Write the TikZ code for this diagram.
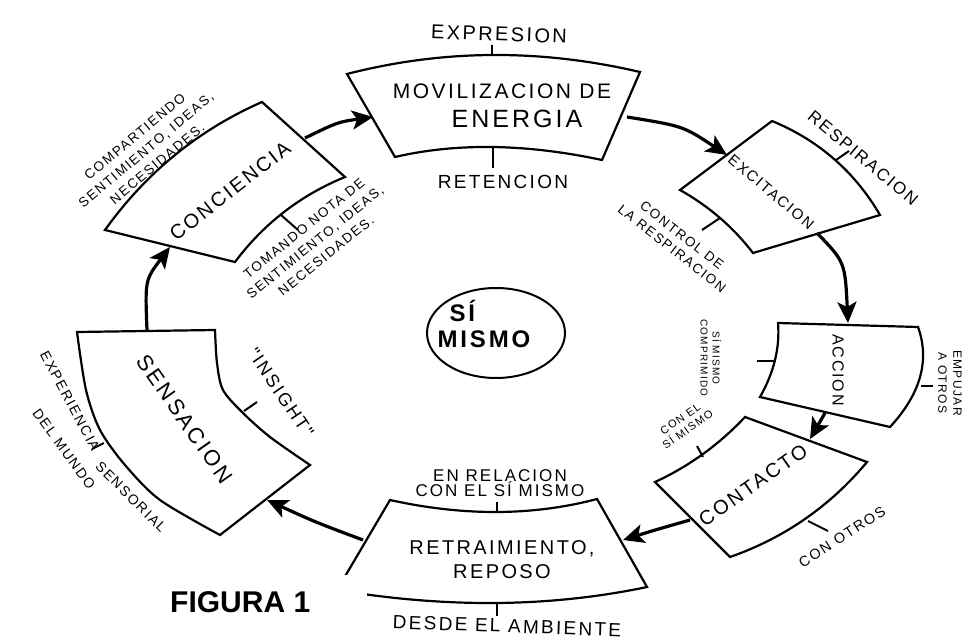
\documentclass[tikz,border=0pt]{standalone}
\usepackage{fontspec}
\setmainfont{Liberation Sans}
\newfontfamily\hand[LetterSpace=12]{Liberation Sans}
\usetikzlibrary{arrows.meta}
\usetikzlibrary{shapes.geometric}

\begin{document}
\begin{tikzpicture}[x=1pt, y=-1pt,
  box/.style={line width=2.2pt, line join=miter},
  tick/.style={line width=2pt},
  flow/.style={line width=3.2pt, -{Stealth[length=21pt, width=19pt, inset=5pt]}},
  lbl/.style={font={\hand\fontsize{#1}{#1}\selectfont}, align=center, inner sep=0pt}]

\fill[white] (0,0) rectangle (979,639);
\useasboundingbox (0,0) rectangle (979,639);

% the seven boxes of the cycle
\draw[box] (347,74) .. controls (442.7,49.3) and (540.3,48.7) .. (640,72) -- (602,160)
  .. controls (525.7,143.7) and (456.7,142.7) .. (395,157) -- cycle;
\draw[box] (772,121) .. controls (818.7,140.3) and (854.7,171.7) .. (880,215) -- (753,253)
  .. controls (733.3,227.3) and (709,206.3) .. (680,190) -- cycle;
\draw[box] (778,323) -- (918,327) .. controls (930,360.3) and (920.7,393.7) .. (890,427) -- (760,397)
  .. controls (774,372.3) and (780,347.7) .. (778,323) -- cycle;
\draw[box] (745,417) -- (867,462) .. controls (830,506.3) and (784.3,538) .. (730,557) -- (655,482)
  .. controls (689,466.3) and (719,444.7) .. (745,417) -- cycle;
\draw[box] (390,500) .. controls (463.7,516.3) and (532.7,516) .. (597,499) -- (647,587)
  .. controls (550.3,607.3) and (447,608.3) .. (337,590) -- cycle;
\draw[box] (77,332) -- plot[smooth] coordinates {(215,330) (217,363) (223,390) (243,413) (270,437) (310,465)}
  -- plot[smooth] coordinates {(220,535) (160,500) (125,465) (100,430) (86,390) (77,332)} -- cycle;
\draw[box] (105,230) .. controls (146,172.7) and (198.3,130) .. (262,102) -- (345,177)
  .. controls (300.3,195.3) and (263.7,223.7) .. (235,262) -- cycle;

% ticks
\draw[tick] (492,55) -- (492,45);
\draw[tick] (493,148) -- (493,168);
\draw[tick] (836,160) -- (849,151);
\draw[tick] (720,218) -- (702,230);
\draw[tick] (776,361) -- (757,361);
\draw[tick] (921,386) -- (933,386);
\draw[tick] (703,457) -- (697,446);
\draw[tick] (808,521) -- (828,531);
\draw[tick] (497,512) -- (497,502);
\draw[tick] (497,603) -- (497,616);
\draw[tick] (244,411) -- (257,402);
\draw[tick] (104,443) -- (92,449);
\draw[tick] (281,215) -- (298,230);

% labels
\node[lbl=20, rotate=-2] (expresion) at (499,34) {EXPRESION};
\node[lbl=21] (movil) at (502,91) {MOVILIZACION DE};
\node[lbl=25] (energia) at (517,119) {ENERGIA};
\node[lbl=19] (retencion) at (503,182) {RETENCION};
\node[lbl=15, rotate=-40] (excit) at (771,192) {EXCITACION};
\node[lbl=17, rotate=-40] (respir) at (863,158) {RESPIRACION};
\node[lbl=13.5, rotate=-38] (control) at (677,242) {CONTROL DE\\[3pt]LA RESPIRACION};
\node[lbl=16, rotate=-90] (accion) at (838,370) {ACCION};
\node[lbl=10, rotate=-90] (comprim) at (711,358) {SÍ MISMO\\[2pt]COMPRIMIDO};
\node[lbl=12, rotate=-90] (empujar) at (950,383) {EMPUJAR\\[3pt]A OTROS};
\node[lbl=20, rotate=35] (contacto) at (753,485) {CONTACTO};
\node[lbl=11, rotate=35] (conel) at (684,424) {CON EL\\[2pt]SÍ MISMO};
\node[lbl=14.5, rotate=33] (conotros) at (842,537) {CON OTROS};
\node[lbl=17] (relacion) at (500,483) {EN RELACION\\[-2pt]CON EL SÍ MISMO};
\node[lbl=20] (retraim) at (502,560) {RETRAIMIENTO,\\[4pt]REPOSO};
\node[lbl=19, rotate=-2] (ambiente) at (507,626) {DESDE EL AMBIENTE};
\node[lbl=22, rotate=-55] (sensac) at (185,419) {SENSACION};
\node[lbl=18, rotate=-56] (insight) at (281,393) {"INSIGHT"};
\node[lbl=14, rotate=-62] (experi) at (70,401) {EXPERIENCIA};
\node[lbl=14, rotate=-45] (sensor) at (131,497) {SENSORIAL};
\node[lbl=14, rotate=-54] (mundo) at (64,449) {DEL MUNDO};
\node[lbl=20, rotate=38] (concien) at (230,191) {CONCIENCIA};
\node[lbl=13.5, rotate=40] (comparte) at (146,150) {COMPARTIENDO\\[4pt]SENTIMIENTO, IDEAS,\\[4pt]NECESIDADES.};
\node[lbl=13.5, rotate=39] (tomando) at (315,242) {TOMANDO NOTA DE\\[4pt]SENTIMIENTO, IDEAS,\\[4pt]NECESIDADES.};

\node[draw, ellipse, line width=2pt, minimum width=138, minimum height=90] (simismo) at (496,333) {};
\node[font={\hand\bfseries\fontsize{24}{26}\selectfont}, align=left, inner sep=0pt] (simismo-txt) at (484,324) {\hspace*{12pt}SÍ\\MISMO};

% arrows round the cycle
\coordinate (concien-out) at (305,138);
\coordinate (movil-in) at (373,117);
\coordinate (movil-out) at (627,117);
\coordinate (excit-in) at (727,155);
\coordinate (excit-out) at (817,233);
\coordinate (accion-in) at (848,323);
\coordinate (accion-out) at (825,413);
\coordinate (contacto-in) at (810,439);
\coordinate (contacto-out) at (690,520);
\coordinate (retraim-in) at (623,540);
\coordinate (retraim-out) at (363,540);
\coordinate (sensac-in) at (267,500);
\coordinate (sensac-out) at (147,330);
\coordinate (concien-in) at (170,247);

\draw[flow] (concien-out) .. controls (338,122) .. (movil-in);
\draw[flow] (movil-out) .. controls (683,126) .. (excit-in);
\draw[flow] (excit-out) .. controls (845,262) .. (accion-in);
\draw[flow] (accion-out) -- (contacto-in);
\draw[flow] (contacto-out) .. controls (655,530) .. (retraim-in);
\draw[flow] (retraim-out) .. controls (315,522) .. (sensac-in);
\draw[flow] (sensac-out) .. controls (145,280) .. (concien-in);

\fill[white] (165,575) rectangle (367,627);
\node[font=\bfseries\fontsize{30}{30}\selectfont, anchor=base west, inner sep=0pt] (figura) at (170,612) {FIGURA 1};

\end{tikzpicture}
\end{document}
